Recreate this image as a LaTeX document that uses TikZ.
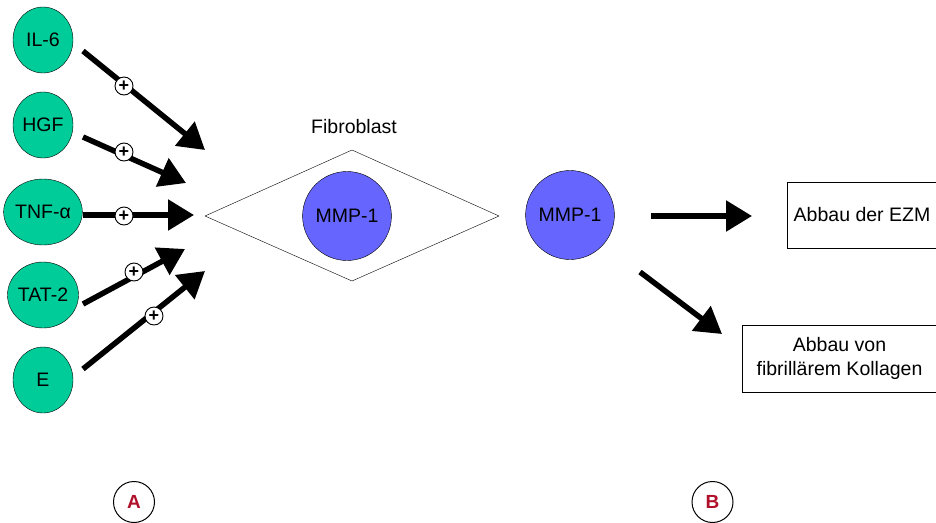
\documentclass[tikz,border=0pt]{standalone}
\usepackage{fontspec}
\setmainfont{Liberation Sans}
\usetikzlibrary{arrows.meta,shapes.geometric}
\definecolor{fgreen}{RGB}{0,204,153}
\definecolor{fblue}{RGB}{102,102,255}
\definecolor{lblred}{RGB}{176,16,42}
\begin{document}
\begin{tikzpicture}[x=1pt,y=-1pt,
  factor/.style={ellipse,draw=black,fill=fgreen,minimum width=60pt,minimum height=66pt,inner sep=0pt,font=\fontsize{19.5}{22}\selectfont},
  mmp/.style={ellipse,draw=black,fill=fblue,minimum width=82pt,minimum height=89pt,inner sep=0pt,font=\fontsize{19.5}{22}\selectfont},
  plus/.style={circle,draw=black,fill=white,minimum size=18pt,inner sep=0pt,line width=0.9pt,font=\fontsize{18}{18}\selectfont\bfseries},
  bigarrow/.style={line width=5.5pt,-{Triangle[length=26pt,width=30pt]}},
  resbox/.style={draw=black,thin,font=\fontsize{19.5}{24}\selectfont,align=center},
  lbl/.style={ellipse,draw=black,line width=1pt,minimum width=41pt,minimum height=41pt,inner sep=0pt,text=lblred,font=\fontsize{19}{20}\selectfont\bfseries}]
\useasboundingbox (0,0) rectangle (936,522);
% factors
\node[factor] (il6) at (43,40) {IL-6};
\node[factor] (hgf) at (43,125) {HGF};
\node[factor] (tnf) at (43,212) {TNF-α};
\node[factor] (tat) at (43,295) {TAT-2};
\node[factor] (e) at (43,380) {E};
% arrow end points
\coordinate (s1) at (83,51);  \coordinate (t1) at (205,150);
\coordinate (s2) at (83,137); \coordinate (t2) at (186,183);
\coordinate (s3) at (83,215); \coordinate (t3) at (194,215);
\coordinate (s4) at (83,304); \coordinate (t4) at (185,249);
\coordinate (s5) at (83,369); \coordinate (t5) at (205,271);
\draw[bigarrow] (s1) -- (t1);
\draw[bigarrow] (s2) -- (t2);
\draw[bigarrow] (s3) -- (t3);
\draw[bigarrow] (s4) -- (t4);
\draw[bigarrow] (s5) -- (t5);
\node[plus] (p1) at (124,86) {+};
\node[plus] (p2) at (124,152) {+};
\node[plus] (p3) at (124,216) {+};
\node[plus] (p4) at (134,272) {+};
\node[plus] (p5) at (154,316) {+};
% fibroblast
\coordinate (dl) at (205,216);
\coordinate (dt) at (352,150);
\coordinate (dr) at (499,216);
\coordinate (db) at (352,281);
\draw[thin] (dl) -- (dt) -- (dr) -- (db) -- cycle;
\node[font=\fontsize{19.5}{22}\selectfont] (fib) at (354,127) {Fibroblast};
\node[mmp] (m1) at (347,216) {MMP-1};
\node[mmp] (m2) at (570,215) {MMP-1};
% results
\coordinate (r1s) at (651,216); \coordinate (r1t) at (752,216);
\coordinate (r2s) at (640,272); \coordinate (r2t) at (722,334);
\draw[bigarrow] (r1s) -- (r1t);
\draw[bigarrow] (r2s) -- (r2t);
\node[resbox,minimum width=150pt,minimum height=66pt] (b1) at (862,215) {Abbau der EZM};
\node[resbox,minimum width=195pt,minimum height=67pt] (b2) at (839.5,358.5) {Abbau von\\fibrillärem Kollagen};
% labels
\node[lbl] (la) at (134,502) {A};
\node[lbl] (lb) at (712.5,502) {B};
\end{tikzpicture}
\end{document}
